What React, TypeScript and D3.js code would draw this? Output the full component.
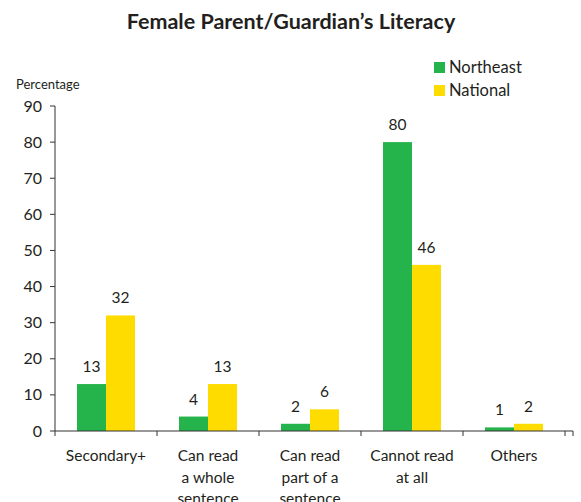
import React from "react";
import * as d3 from "d3";

const categories = [["Secondary+"], ["Can read", "a whole", "sentence"], ["Can read", "part of a", "sentence"], ["Cannot read", "at all"], ["Others"]];
const northeast = [13, 4, 2, 80, 1];
const national = [32, 13, 6, 46, 2];
const neLabels = ["13", "4", "2", "80", "1"];
const naLabels = ["32", "13", "6", "46", "2"];
const yTicks = [0, 10, 20, 30, 40, 50, 60, 70, 80, 90];
const seriesNames = ["Northeast", "National"];

const GREEN = "#25b34b";
const YELLOW = "#ffdc00";
const TEXT = "#231f20";
const FONT = "Lato, 'Open Sans', sans-serif";

export default function App() {
  const W = 581, H = 502;
  const x0 = 55, x1 = 565, yTop = 106, yBot = 431;
  const y = d3.scaleLinear().domain([0, 90]).range([yBot, yTop]);
  const x = d3.scaleBand<number>().domain(d3.range(categories.length)).range([x0, x1]).paddingInner(0).paddingOuter(0);
  const bw = x.bandwidth();
  const barW = 29;
  const sub = d3.scaleBand<number>().domain([0, 1]).range([(bw - 2 * barW) / 2, (bw + 2 * barW) / 2]);
  const series = [northeast, national];
  const labels = [neLabels, naLabels];
  const colors = [GREEN, YELLOW];

  return (
    <svg width={W} height={H} style={{ position: "absolute", left: 0, top: 0 }} fontFamily={FONT}>
      <rect width={W} height={H} fill="#fff" />
      <text x={291} y={29} textAnchor="middle" fontSize={21.5} fontWeight="bold" fill={TEXT}>
        Female Parent/Guardian’s Literacy
      </text>
      {/* legend */}
      {seriesNames.map((n, i) => (
        <g key={n}>
          <rect x={434} y={62 + i * 23} width={11} height={11} fill={colors[i]} />
          <text x={449} y={73 + i * 23} fontSize={16.5} fill={TEXT}>{n}</text>
        </g>
      ))}
      <text x={16} y={89} fontSize={13} fill={TEXT}>Percentage</text>
      {/* y axis */}
      <line x1={x0} x2={x0} y1={yTop} y2={yBot} stroke="#333" strokeWidth={1} />
      {yTicks.map((t) => (
        <g key={t}>
          <line x1={x0 - 5} x2={x0} y1={y(t)} y2={y(t)} stroke="#333" />
          <text x={42} y={y(t) + 5.5} textAnchor="end" fontSize={16} fill={TEXT}>{t}</text>
        </g>
      ))}
      {/* bars */}
      {categories.map((c, i) => (
        <g key={i} transform={`translate(${x(i)},0)`}>
          {series.map((s, j) => (
            <g key={j}>
              <rect x={sub(j)} y={y(s[i])} width={barW} height={yBot - y(s[i])} fill={colors[j]} />
              <text x={(sub(j) as number) + barW / 2} y={y(s[i]) - 12} textAnchor="middle" fontSize={15.5} fill={TEXT}>
                {labels[j][i]}
              </text>
            </g>
          ))}
        </g>
      ))}
      {/* x axis */}
      <line x1={x0} x2={573} y1={yBot} y2={yBot} stroke="#333" />
      {d3.range(categories.length + 1).map((i) => {
        const xx = i < categories.length ? (x(i) as number) : x1;
        return <line key={i} x1={xx} x2={xx} y1={yBot} y2={yBot + 5} stroke="#333" />;
      })}
      <line x1={573} x2={573} y1={yBot} y2={yBot + 5} stroke="#333" />
      {categories.map((c, i) => (
        <text key={i} textAnchor="middle" fontSize={15.5} fill={TEXT}>
          {c.map((l, k) => (
            <tspan key={k} x={(x(i) as number) + bw / 2} y={461 + k * 21.5}>{l}</tspan>
          ))}
        </text>
      ))}
    </svg>
  );
}
